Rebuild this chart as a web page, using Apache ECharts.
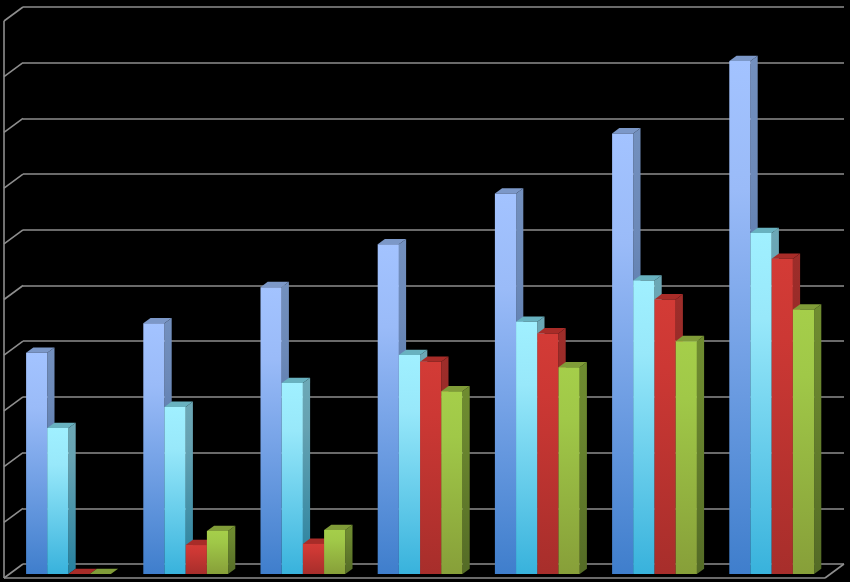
<!DOCTYPE html>
<html>
<head>
<meta charset="utf-8">
<style>html,body{margin:0;padding:0;background:#000}#c{width:850px;height:582px}</style>
<script src="https://cdn.jsdelivr.net/npm/echarts@6/dist/echarts.min.js"></script>
</head>
<body>
<div id="c"></div>
<script>
var categories = ['1','2','3','4','5','6','7'];
var seriesA = [39.7, 45.0, 51.5, 59.2, 68.3, 79.1, 92.1];
var seriesB = [26.2, 30.0, 34.3, 39.3, 45.3, 52.7, 61.2];
var seriesC = [0, 5.2, 5.4, 38.1, 43.2, 49.3, 56.6];
var seriesD = [0, 7.7, 7.9, 32.8, 37.1, 41.8, 47.5];
var ticks = [0, 10, 20, 30, 40, 50, 60, 70, 80, 90, 100];

var palette = [
  {front:['#A3C3FF','#9ABBF8','#3F7ECC'], side:['#7390BE','#6C89B8','#305C96'], top:'#7C98C8'},
  {front:['#A0F0FF','#98E8FA','#38B2DC'], side:['#6CA8B6','#66A2B2','#25809E'], top:'#68B2C0'},
  {front:['#D33B36','#CC3834','#A72E2B'], side:['#9E2D2A','#982B28','#7A2020'], top:'#A82C28'},
  {front:['#A5CE4A','#A0C848','#879F39'], side:['#6F8C30','#6B872F','#546B26'], top:'#809C38'}
];
var barFrac = 21.2 / 117.2;
var depthX = 7.2, depthY = -5.3;
var wallX = -19, wallY = 14;
var lineColor = '#8E8E8E';

function grad(c){
  return {type:'linear',x:0,y:0,x2:0,y2:1,colorStops:[{offset:0,color:c[0]},{offset:0.25,color:c[1]},{offset:1,color:c[2]}]};
}
function barSeries(values, idx){
  return {
    type:'custom', xAxisIndex:1, yAxisIndex:1, clip:false, z:5, silent:true, animation:false,
    data: values.map(function(v,i){return [i,v];}),
    renderItem:function(params, api){
      var top = api.coord([api.value(0), api.value(1)]);
      var base = api.coord([api.value(0), 0]);
      var w = api.size([1,0])[0] * barFrac;
      var x0 = top[0] - 2*w + idx*w, x1 = x0 + w;
      var p = palette[idx], kids = [];
      kids.push({type:'polygon',shape:{points:[[x1,top[1]],[x1+depthX,top[1]+depthY],[x1+depthX,base[1]+depthY],[x1,base[1]]]},style:{fill:grad(p.side)}});
      kids.push({type:'polygon',shape:{points:[[x0,top[1]],[x0+depthX,top[1]+depthY],[x1+depthX,top[1]+depthY],[x1,top[1]]]},style:{fill:p.top}});
      if (base[1]-top[1] > 0.5) kids.push({type:'rect',shape:{x:x0,y:top[1],width:w,height:base[1]-top[1]},style:{fill:grad(p.front)}});
      return {type:'group',children:kids};
    }
  };
}
var wallStyle = {stroke:lineColor,lineWidth:1.6,fill:'none'};
var wall = {
  type:'custom', xAxisIndex:0, yAxisIndex:0, clip:false, z:1, silent:true, animation:false,
  data: ticks.map(function(t){return [0,t];}),
  renderItem:function(params, api){
    var v = api.value(1);
    var a = api.coord([0,v]);
    var kids = [{type:'line',shape:{x1:a[0],y1:a[1],x2:a[0]+wallX,y2:a[1]+wallY},style:wallStyle}];
    if (v === 0) {
      var end = api.coord([1,0]), tp = api.coord([0,ticks[ticks.length-1]]);
      kids.push({type:'line',shape:{x1:a[0]+wallX,y1:a[1]+wallY,x2:end[0]+wallX,y2:end[1]+wallY},style:wallStyle});
      kids.push({type:'line',shape:{x1:end[0]+wallX,y1:end[1]+wallY,x2:end[0],y2:end[1]},style:wallStyle});
      kids.push({type:'line',shape:{x1:a[0]+wallX,y1:a[1]+wallY,x2:tp[0]+wallX,y2:tp[1]+wallY},style:wallStyle});
    }
    return {type:'group',children:kids};
  }
};
var chart = echarts.init(document.getElementById('c'), null, {renderer:'canvas'});
chart.setOption({
  backgroundColor:'#000',
  animation:false,
  grid:[
    {left:23, right:6, top:7, bottom:18, containLabel:false},
    {left:9.9, width:820.4, top:17, bottom:8, containLabel:false}
  ],
  xAxis:[
    {gridIndex:0,type:'value',min:0,max:1,show:false},
    {gridIndex:1,type:'category',data:categories,show:false}
  ],
  yAxis:[
    {gridIndex:0,type:'value',min:0,max:100,interval:10,axisLine:{show:false},axisTick:{show:false},axisLabel:{show:false},
     splitLine:{show:true,lineStyle:{color:lineColor,width:1.6}}},
    {gridIndex:1,type:'value',min:0,max:100,interval:10,show:false,splitLine:{show:false}}
  ],
  series:[wall, barSeries(seriesA,0), barSeries(seriesB,1), barSeries(seriesC,2), barSeries(seriesD,3)]
});
</script>
</body>
</html>
